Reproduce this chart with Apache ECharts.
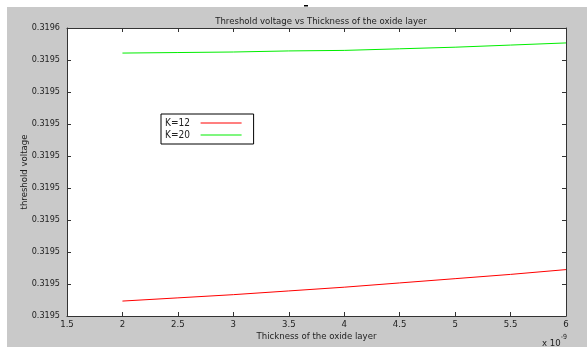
<!DOCTYPE html>
<html lang="en">
<head>
    <meta charset="utf-8">
    <title>Threshold voltage vs Thickness of the oxide layer</title>
    <script src="https://cdn.jsdelivr.net/npm/echarts@6/dist/echarts.min.js"></script>
</head>
<body style="margin:0; background:#fff;">
<div id="main" style="width: 587px; height: 347px;"></div>

<script type="text/javascript">
    // thickness (x 1e-9)
    const thickness = [2, 2.5, 3, 3.5, 4, 4.5, 5, 5.5, 6];
    // threshold voltage
    const vK12 = [0.3195028, 0.3195034, 0.3195040, 0.3195047, 0.3195054, 0.3195062, 0.3195070, 0.3195078, 0.3195087];
    const vK20 = [0.3195493, 0.3195494, 0.3195495, 0.3195497, 0.3195498, 0.3195501, 0.3195504, 0.3195508, 0.3195512];
    const seriesNames = ['K=12', 'K=20'];
    // matlab rounds every label to 4 digits
    const yTickLabels = ['0.3195', '0.3195', '0.3195', '0.3195', '0.3195', '0.3195', '0.3195', '0.3195', '0.3195', '0.3196'];

    const font = '"Liberation Sans Narrow", "DejaVu Sans Condensed", "Liberation Sans", sans-serif';
    const txt = '#222';
    const axisCol = '#333';

    let myChart = echarts.init(document.getElementById('main'));

    function pairs(ys) {
        return thickness.map(function (x, i) { return [x, ys[i]]; });
    }

    const xBase = {
        type: 'value', min: 1.5, max: 6, interval: 0.5,
        axisLine: {lineStyle: {color: axisCol, width: 1}},
        axisTick: {inside: true, length: 4, lineStyle: {color: axisCol}},
        splitLine: {show: false}
    };
    const yBase = {
        type: 'value', min: 0.31950, max: 0.319554, interval: 0.000006,
        axisLine: {show: true, lineStyle: {color: axisCol, width: 1}},
        axisTick: {show: true, inside: true, length: 4, lineStyle: {color: axisCol}},
        splitLine: {show: false}
    };

    const option = {
        backgroundColor: '#fff',
        animation: false,
        title: {
            text: 'Threshold voltage vs Thickness of the oxide layer',
            left: 316, top: 12, textAlign: 'center',
            textStyle: {fontFamily: font, fontSize: 9.5, fontWeight: 'normal', color: txt}
        },
        graphic: [
            {type: 'rect', z: -10, shape: {x: 7, y: 7, width: 580, height: 340}, style: {fill: '#c9c9c9'}},
            {type: 'rect', shape: {x: 304, y: 5, width: 4, height: 1.5}, style: {fill: '#000'}},
            {
                type: 'text', left: 542, top: 334,
                style: {
                    text: '{a|x 10}{b|-9}',
                    rich: {
                        a: {fontFamily: font, fontSize: 9.5, fill: txt, padding: [5, 0, 0, 0]},
                        b: {fontFamily: font, fontSize: 7, fill: txt, verticalAlign: 'top'}
                    }
                }
            }
        ],
        legend: {
            orient: 'vertical', left: 161, top: 114,
            align: 'right',
            padding: [4, 12, 4, 4],
            itemGap: 2, itemWidth: 41, itemHeight: 1,
            icon: 'rect',
            backgroundColor: '#fff', borderColor: '#000', borderWidth: 1, borderRadius: 0,
            formatter: function (name) { return name + '  '; },
            textStyle: {fontFamily: font, fontSize: 10, color: txt},
            data: seriesNames
        },
        grid: {
            left: 67, right: 21, top: 28, bottom: 31,
            outerBoundsMode: 'none',
            show: true, backgroundColor: '#fff', borderWidth: 0
        },
        xAxis: [
            Object.assign({}, xBase, {
                position: 'bottom',
                name: 'Thickness of the oxide layer', nameLocation: 'middle', nameGap: 16,
                nameMoveOverlap: false,
                nameTextStyle: {fontFamily: font, fontSize: 9.5, color: txt},
                axisLabel: {fontFamily: font, fontSize: 9.5, color: txt, margin: 4}
            }),
            Object.assign({}, xBase, {position: 'top', axisLabel: {show: false}})
        ],
        yAxis: [
            Object.assign({}, yBase, {
                position: 'left',
                name: 'threshold voltage', nameLocation: 'middle', nameGap: 37,
                nameMoveOverlap: false,
                nameTextStyle: {fontFamily: font, fontSize: 9.5, color: txt},
                axisLabel: {
                    fontFamily: font, fontSize: 9, color: txt, margin: 7,
                    formatter: function (v, i) { return yTickLabels[i]; }
                }
            }),
            Object.assign({}, yBase, {position: 'right', axisLabel: {show: false}})
        ],
        series: [
            {
                name: seriesNames[0], type: 'line', symbol: 'none',
                lineStyle: {color: '#ff0000', width: 1}, itemStyle: {color: '#ff0000'},
                data: pairs(vK12)
            },
            {
                name: seriesNames[1], type: 'line', symbol: 'none',
                lineStyle: {color: '#00ee00', width: 1}, itemStyle: {color: '#00ee00'},
                data: pairs(vK20)
            }
        ]
    };
    myChart.setOption(option);
</script>
</body>
</html>
